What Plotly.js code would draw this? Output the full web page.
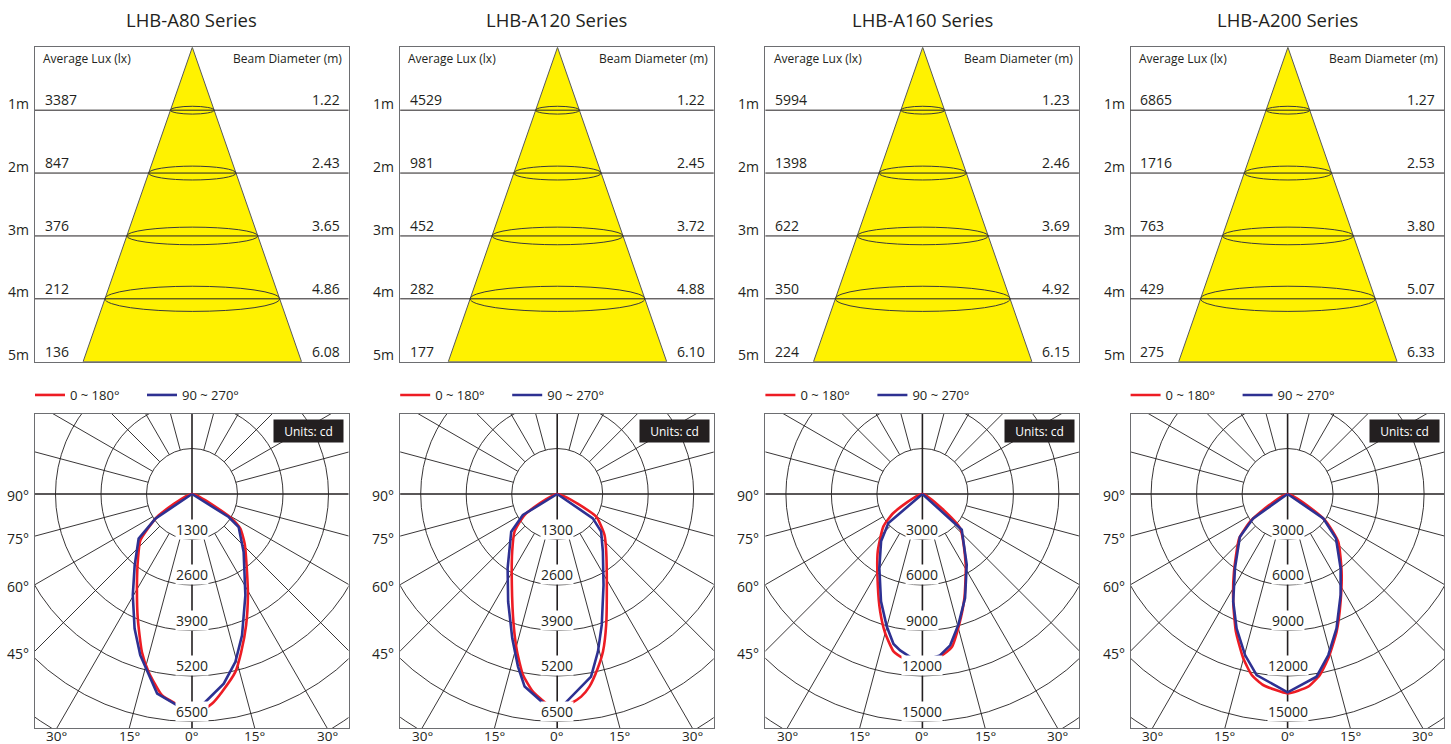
<!DOCTYPE html>
<html>
<head>
<meta charset="utf-8">
<script src="https://cdn.plot.ly/plotly-3.0.1.min.js"></script>
<style>
html,body{margin:0;padding:0;background:#fff;}
#chart{width:1451px;height:744px;}
</style>
</head>
<body>
<div id="chart"></div>
<script>
// ---------------- DATA ----------------
const seriesNames = ['LHB-A80 Series', 'LHB-A120 Series', 'LHB-A160 Series', 'LHB-A200 Series'];
const distances = [1, 2, 3, 4, 5];
const distanceLabels = ['1m', '2m', '3m', '4m', '5m'];

const luxA80  = [3387, 847, 376, 212, 136];
const luxA120 = [4529, 981, 452, 282, 177];
const luxA160 = [5994, 1398, 622, 350, 224];
const luxA200 = [6865, 1716, 763, 429, 275];

const beamA80  = [1.22, 2.43, 3.65, 4.86, 6.08];
const beamA120 = [1.22, 2.45, 3.72, 4.88, 6.10];
const beamA160 = [1.23, 2.46, 3.69, 4.92, 6.15];
const beamA200 = [1.27, 2.53, 3.80, 5.07, 6.33];

const cdRingsA80  = [1300, 2600, 3900, 5200, 6500];
const cdRingsA120 = [1300, 2600, 3900, 5200, 6500];
const cdRingsA160 = [3000, 6000, 9000, 12000, 15000];
const cdRingsA200 = [3000, 6000, 9000, 12000, 15000];

const planeNames = ['0 ~ 180°', '90 ~ 270°'];
const leftAngleLabels = [90, 75, 60, 45];
const bottomAngleLabels = [-30, -15, 0, 15, 30];

// luminous intensity curves: angle from nadir (deg, negative = left) and candela
const a80C0Deg  = [-90, -56.7, -48.1, -39.9, -31.1, -23.5, -17.6, -13.7, -8.5, -3.6, 0, 3.1, 5.5, 8.6, 13.7, 17.3, 22.4, 28.9, 35.2, 46.7, 54.4, 58.3, 90];
const a80C0Cd   = [0, 1196, 1982, 2406, 3045, 3884, 4734, 5232, 5814, 6047, 6250, 6159, 6015, 5720, 5232, 4728, 4056, 3306, 2726, 2068, 1699, 1342, 0];
const a80C90Deg = [-90, -56.1, -50.1, -38.8, -30.3, -23.1, -17.8, -13.4, -9.9, -4.1, 0, 2.7, 5.7, 9.5, 14.5, 19.5, 27.8, 41.7, 54.7, 57.9, 90];
const a80C90Cd  = [0, 1262, 1987, 2614, 3353, 4180, 4838, 5325, 5790, 6051, 6300, 6042, 5779, 5493, 4955, 4282, 3270, 2218, 1633, 1236, 0];

const a120C0Deg  = [-90, -57.3, -48.6, -38, -26.5, -18.4, -14.3, -10.7, -7, -3, 0, 3.8, 6.75, 9.5, 13.1, 16.2, 20.5, 28.6, 40.4, 49.1, 59.8, 90];
const a120C0Cd   = [0, 1109, 1625, 2089, 2904, 3943, 4646, 5262, 5688, 5988, 6150, 5992, 5830, 5580, 5112, 4688, 3995, 2961, 2161, 1789, 1288, 0];
const a120C90Deg = [-90, -58.5, -50.7, -33.7, -24.5, -17.3, -12.8, -9.6, -3.4, 0, 1.5, 5.5, 10.5, 14.5, 18.8, 27, 38.4, 49.4, 55.7, 90];
const a120C90Cd  = [0, 1149, 1698, 2553, 3380, 4318, 5057, 5580, 6020, 6150, 6047, 5671, 5306, 4650, 3951, 2916, 2101, 1654, 1233, 0];

const a160C0Deg  = [-90, -56.8, -50.3, -37.9, -26.2, -19.8, -15, -10.4, -7.2, 0, 6.8, 10.8, 15.7, 22, 31.5, 47.9, 90];
const a160C0Cd   = [0, 2286, 3341, 4792, 6664, 8225, 9491, 10550, 10858, 11100, 10715, 10294, 8950, 7396, 5466, 3346, 0];
const a160C90Deg = [-90, -49.5, -41.1, -30.2, -21.1, -15.1, -10.9, -8.1, -3.7, 0, 6.2, 10.4, 15.4, 22.3, 32.1, 47.8, 90];
const a160C90Cd  = [0, 2946, 4144, 5644, 7583, 9036, 10074, 10414, 10836, 11000, 10704, 10144, 8937, 7412, 5500, 3501, 0];

const a200C0Deg  = [-90, -54.2, -47.5, -34.6, -26.8, -20.6, -15.1, -11.2, -7.3, 0, 6.1, 10.1, 13.9, 19.6, 26.2, 34.8, 46.7, 55.1, 90];
const a200C0Cd   = [0, 2928, 4325, 6225, 7952, 9694, 11223, 12168, 12696, 13144, 12778, 12124, 11163, 9636, 7913, 6238, 4587, 3000, 0];
const a200C90Deg = [-90, -54.7, -48.2, -35.3, -26.8, -20.8, -14.8, -9.7, 0, 9, 14.2, 20, 27.7, 35.5, 47.5, 55.7, 90];
const a200C90Cd  = [0, 2775, 4218, 6007, 7952, 9474, 10983, 12110, 13078, 12197, 10950, 9430, 7521, 6020, 4325, 2847, 0];

// ---------------- STYLE / LAYOUT CONSTANTS ----------------
const W = 1451, H = 744;
const FONT = 'Open Sans, sans-serif';
const TXT = '#231f20';
const GRID = '#231f20';
const FRAME = '#6d6e71';
const RED = '#ed1c24';
const BLUE = '#2e3192';
const YELLOW = '#fff200';
const panelLeft0 = 35, panelPitch = 365.2, panelW = 313.5;
const coneTopPx = 47.3, coneBottomPx = 361.7, coneApexPx = 157.3, coneBasePx = 109.2;
const polTopPx = 414, polBottomPx = 728, polCxPx = 157, polCyPx = 80, ringPx = 45.5;
const ellipseHalfH = [0.062, 0.11, 0.14, 0.2];

const panels = [
  {name: seriesNames[0], lux: luxA80,  beam: beamA80,  rings: cdRingsA80,  c0: [a80C0Deg, a80C0Cd],   c90: [a80C90Deg, a80C90Cd]},
  {name: seriesNames[1], lux: luxA120, beam: beamA120, rings: cdRingsA120, c0: [a120C0Deg, a120C0Cd], c90: [a120C90Deg, a120C90Cd]},
  {name: seriesNames[2], lux: luxA160, beam: beamA160, rings: cdRingsA160, c0: [a160C0Deg, a160C0Cd], c90: [a160C90Deg, a160C90Cd]},
  {name: seriesNames[3], lux: luxA200, beam: beamA200, rings: cdRingsA200, c0: [a200C0Deg, a200C0Cd], c90: [a200C90Deg, a200C90Cd]}
];

const rad = d => d * Math.PI / 180;
const sfx = n => (n === 1 ? '' : String(n));

const traces = [];
const layout = {
  width: W, height: H,
  margin: {l: 0, r: 0, t: 0, b: 0},
  paper_bgcolor: '#ffffff', plot_bgcolor: '#ffffff',
  font: {family: FONT, color: TXT, size: 13},
  showlegend: true,
  shapes: [], annotations: []
};

const baseAxis = {showgrid: false, zeroline: false, showticklabels: false, ticks: '',
  showline: true, mirror: true, linecolor: FRAME, linewidth: 1, fixedrange: true};

panels.forEach((p, i) => {
  const leftPx = panelLeft0 + i * panelPitch;
  const dom = [leftPx / W, (leftPx + panelW) / W];
  const cn = i + 1, pn = i + 5;
  const cX = 'x' + sfx(cn), cY = 'y' + sfx(cn);
  const pX = 'x' + sfx(pn), pY = 'y' + sfx(pn);
  const maxD = distances[distances.length - 1];
  const slope = 1 / maxD;

  // ---- cone subplot ----
  layout['xaxis' + sfx(cn)] = Object.assign({}, baseAxis, {
    domain: dom, anchor: cY,
    range: [-coneApexPx / coneBasePx, (panelW - coneApexPx) / coneBasePx]
  });
  layout['yaxis' + sfx(cn)] = Object.assign({}, baseAxis, {
    domain: [1 - coneBottomPx / H, 1 - coneTopPx / H], anchor: cX,
    range: [maxD, 0]
  });
  traces.push({
    type: 'scatter', mode: 'lines', xaxis: cX, yaxis: cY,
    x: [0, -maxD * slope, maxD * slope, 0], y: [0, maxD, maxD, 0],
    fill: 'toself', fillcolor: YELLOW, line: {color: '#58595b', width: 1},
    showlegend: false, hoverinfo: 'skip'
  });
  distances.forEach((d, k) => {
    if (d < maxD) {
      layout.shapes.push({type: 'line', xref: cX + ' domain', yref: cY, x0: 0, x1: 1, y0: d, y1: d,
        line: {color: '#231f20', width: 1}, layer: 'above'});
      layout.shapes.push({type: 'circle', xref: cX, yref: cY,
        x0: -d * slope, x1: d * slope, y0: d - ellipseHalfH[k], y1: d + ellipseHalfH[k],
        line: {color: '#3a3a3a', width: 1}, layer: 'above'});
    }
    layout.annotations.push({xref: cX + ' domain', yref: cY, x: 0.0245, y: d - 0.17,
      xanchor: 'left', yanchor: 'middle', text: String(p.lux[k]), showarrow: false, font: {size: 14}});
    layout.annotations.push({xref: cX + ' domain', yref: cY, x: 0.978, y: d - 0.17,
      xanchor: 'right', yanchor: 'middle', text: p.beam[k].toFixed(2), showarrow: false, font: {size: 14}});
    layout.annotations.push({xref: cX + ' domain', yref: cY, x: 0, y: d - 0.11, xshift: -4,
      xanchor: 'right', yanchor: 'middle', text: distanceLabels[k], showarrow: false, font: {size: 14}});
  });
  layout.annotations.push({xref: cX + ' domain', yref: cY, x: 0.02, y: 0.175,
    xanchor: 'left', yanchor: 'middle', text: 'Average Lux (lx)', showarrow: false, font: {size: 12}});
  layout.annotations.push({xref: cX + ' domain', yref: cY, x: 0.987, y: 0.175,
    xanchor: 'right', yanchor: 'middle', text: 'Beam Diameter (m)', showarrow: false, font: {size: 12}});
  layout.annotations.push({xref: 'paper', yref: 'paper', x: (leftPx + panelW / 2) / W, y: 1 - 20 / H,
    xanchor: 'center', yanchor: 'middle', text: p.name, showarrow: false, font: {size: 18.5}});

  // ---- polar (candela) subplot in cartesian axes ----
  const s = p.rings[0];
  const u = s / ringPx; // cd per pixel
  layout['xaxis' + sfx(pn)] = Object.assign({}, baseAxis, {
    domain: dom, anchor: pY,
    range: [-polCxPx * u, (panelW - polCxPx) * u]
  });
  layout['yaxis' + sfx(pn)] = Object.assign({}, baseAxis, {
    domain: [1 - polBottomPx / H, 1 - polTopPx / H], anchor: pX,
    range: [-(polBottomPx - polTopPx - polCyPx) * u, polCyPx * u]
  });
  for (let k = 1; k <= 7; k++) {
    layout.shapes.push({type: 'circle', xref: pX, yref: pY, x0: -k * s, x1: k * s, y0: -k * s, y1: k * s,
      line: {color: GRID, width: 0.9}, layer: 'below'});
  }
  [15, 30, 45, 60, 75, 105, 120, 135, 150, 165].forEach(a => {
    [-1, 1].forEach(sg => {
      const t = rad(a) * sg;
      layout.shapes.push({type: 'line', xref: pX, yref: pY,
        x0: s * Math.sin(t), y0: -s * Math.cos(t), x1: 12 * s * Math.sin(t), y1: -12 * s * Math.cos(t),
        line: {color: GRID, width: 0.9}, layer: 'below'});
    });
  });
  layout.shapes.push({type: 'line', xref: pX, yref: pY, x0: 0, x1: 0, y0: -12 * s, y1: 12 * s,
    line: {color: GRID, width: 1.6}, layer: 'below'});
  layout.shapes.push({type: 'line', xref: pX, yref: pY, x0: -12 * s, x1: 12 * s, y0: 0, y1: 0,
    line: {color: GRID, width: 1.6}, layer: 'below'});

  const legendKey = 'legend' + sfx(i + 1);
  [[p.c0, RED, planeNames[0], 'spline'], [p.c90, BLUE, planeNames[1], 'linear']].forEach(([c, col, nm, shp]) => {
    traces.push({
      type: 'scatter', mode: 'lines', xaxis: pX, yaxis: pY,
      x: c[0].map((a, j) => c[1][j] * Math.sin(rad(a))),
      y: c[0].map((a, j) => -c[1][j] * Math.cos(rad(a))),
      line: {color: col, width: 2.6, shape: shp, smoothing: 0.5}, name: nm, legend: legendKey, hoverinfo: 'skip'
    });
  });
  layout[legendKey] = {
    x: (leftPx - 5) / W, y: 1 - 395 / H, xanchor: 'left', yanchor: 'middle',
    orientation: 'h', font: {size: 13, color: TXT}, bgcolor: 'rgba(0,0,0,0)',
    borderwidth: 0, itemwidth: 30, entrywidth: 67, tracegroupgap: 0, traceorder: 'normal'
  };

  p.rings.forEach((r, k) => {
    layout.annotations.push({xref: pX, yref: pY, x: 0, y: -(k + 1 - 0.23) * s,
      xanchor: 'center', yanchor: 'middle', text: String(r), showarrow: false,
      bgcolor: '#ffffff', borderpad: 0, font: {size: 14}});
  });
  const xl = polCxPx * u;
  leftAngleLabels.forEach(a => {
    const y = a === 90 ? 0 : -xl / Math.tan(rad(a));
    layout.annotations.push({xref: pX + ' domain', yref: pY, x: 0, y: y, xshift: -4, yshift: -2,
      xanchor: 'right', yanchor: 'middle', text: a + '°', showarrow: false, font: {size: 14}});
  });
  const yb = (polBottomPx - polTopPx - polCyPx) * u;
  bottomAngleLabels.forEach(a => {
    layout.annotations.push({xref: pX, yref: pY + ' domain', x: yb * Math.tan(rad(a)), y: 0, yshift: 2,
      xanchor: 'center', yanchor: 'top', text: Math.abs(a) + '°', showarrow: false,
      borderpad: 0, font: {size: 13.5}});
  });
  layout.annotations.push({xref: pX + ' domain', yref: pY + ' domain', x: 0.987, y: 0.984,
    xanchor: 'right', yanchor: 'top', text: 'Units: cd', showarrow: false,
    bgcolor: '#231f20', width: 65, height: 18, borderpad: 2, font: {size: 12, color: '#ffffff'}});
});

Plotly.newPlot('chart', traces, layout, {displayModeBar: false, staticPlot: true});
</script>
</body>
</html>
